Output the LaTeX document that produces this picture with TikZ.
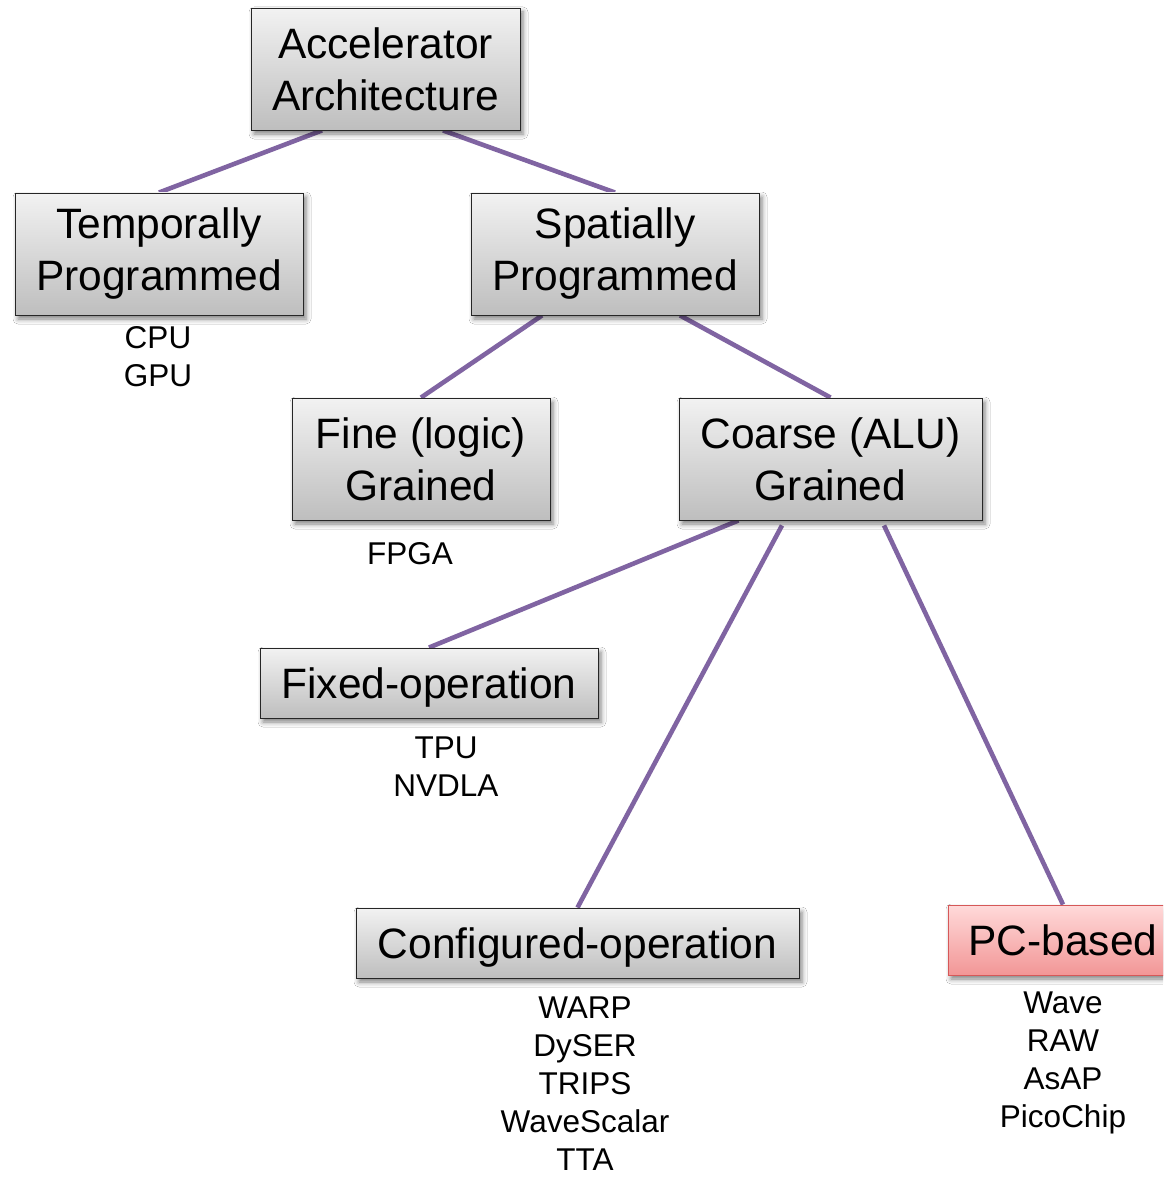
\documentclass[tikz,border=0pt]{standalone}
\usepackage{fontspec}
\setmainfont{Liberation Sans}
\usetikzlibrary{shadows.blur,backgrounds}

\definecolor{boxtop}{RGB}{242,242,242}
\definecolor{boxbot}{RGB}{190,190,190}
\definecolor{pinktop}{RGB}{255,218,218}
\definecolor{pinkbot}{RGB}{242,150,150}
\definecolor{pinkline}{RGB}{214,88,88}
\definecolor{branch}{RGB}{128,100,162}

\newcommand{\boxfont}{\fontsize{42.5}{52}\selectfont}
\newcommand{\lblfont}{\fontsize{31.5}{38}\selectfont}

\tikzset{
  box/.style={draw=black!85, line width=0.9pt, top color=boxtop, bottom color=boxbot,
    blur shadow={shadow xshift=3pt, shadow yshift=-4pt, shadow blur radius=5pt, shadow opacity=50},
    align=center, font=\boxfont, inner sep=0pt},
  onebox/.style={box, text height=31pt, text depth=1pt},
  pcbox/.style={onebox, draw=pinkline, top color=pinktop, bottom color=pinkbot},
  lbl/.style={align=center, font=\lblfont, inner sep=0pt},
  edge/.style={draw=branch, line width=4.6pt}
}

\begin{document}
\begin{tikzpicture}[x=1pt,y=-1pt]
  \clip (0,0) rectangle (1163,1177);

  % category boxes
  \node[box, minimum width=269pt, minimum height=122pt] (acc)   at (385.5,69)  {Accelerator\\Architecture};
  \node[box, minimum width=288pt, minimum height=122pt] (temp)  at (159,254)   {Temporally\\Programmed};
  \node[box, minimum width=288pt, minimum height=122pt] (spat)  at (615,254)   {Spatially\\Programmed};
  \node[box, minimum width=258pt, minimum height=122pt] (fine)  at (421,459)   {Fine (logic)\\Grained};
  \node[box, minimum width=303pt, minimum height=122pt] (coarse) at (830.5,459) {Coarse (ALU)\\Grained};
  \node[onebox, minimum width=338pt, minimum height=70pt]  (fixed) at (429,683)   {Fixed-operation};
  \node[onebox, minimum width=443pt, minimum height=70pt]  (conf)  at (577.5,943) {Configured-operation};
  \node[pcbox, minimum width=230pt, minimum height=70pt] (pc)   at (1063,940)  {PC-based};

  % example lists
  \node[lbl] (cpu)   at (158,357)   {CPU\\GPU};
  \node[lbl] (fpga)  at (410,554)   {FPGA};
  \node[lbl] (tpu)   at (446,767)   {TPU\\NVDLA};
  \node[lbl] (warp)  at (585,1084) {WARP\\DySER\\TRIPS\\WaveScalar\\TTA};
  \node[lbl] (wave)  at (1063,1062.5) {Wave\\RAW\\AsAP\\PicoChip};

  % branches of the taxonomy
  \begin{scope}[on background layer]
    \fill[white] (0,0) rectangle (1163,1177);
    \draw[edge] ([xshift=-63.5pt]acc.south)  -- (temp.north);
    \draw[edge] ([xshift=57.5pt]acc.south)   -- (spat.north);
    \draw[edge] ([xshift=-73pt]spat.south)   -- (fine.north);
    \draw[edge] ([xshift=65pt]spat.south)    -- (coarse.north);
    \draw[edge] ([xshift=-92pt]coarse.south) -- (fixed.north);
    \draw[edge] ([xshift=-48.5pt,yshift=-5pt]coarse.south) -- (conf.north);
    \draw[edge] ([xshift=53.5pt,yshift=-5pt]coarse.south)  -- (pc.north);
  \end{scope}
\end{tikzpicture}
\end{document}
